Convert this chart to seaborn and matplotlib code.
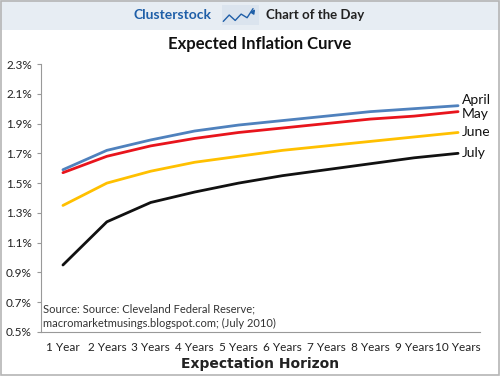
import numpy as np
import pandas as pd
import matplotlib
matplotlib.use("Agg")
import matplotlib.pyplot as plt
import seaborn as sns
from matplotlib.ticker import FuncFormatter, FixedLocator

# --- data ---
horizons = ["1 Year", "2 Years", "3 Years", "4 Years", "5 Years",
            "6 Years", "7 Years", "8 Years", "9 Years", "10 Years"]
april = [1.59, 1.72, 1.79, 1.85, 1.89, 1.92, 1.95, 1.98, 2.00, 2.02]
may = [1.57, 1.68, 1.75, 1.80, 1.84, 1.87, 1.90, 1.93, 1.95, 1.98]
june = [1.35, 1.50, 1.58, 1.64, 1.68, 1.72, 1.75, 1.78, 1.81, 1.84]
july = [0.95, 1.24, 1.37, 1.44, 1.50, 1.55, 1.59, 1.63, 1.67, 1.70]
months = ["April", "May", "June", "July"]
y_ticks = [0.5, 0.7, 0.9, 1.1, 1.3, 1.5, 1.7, 1.9, 2.1, 2.3]
colors = {"April": "#4f81bd", "May": "#e8141c", "June": "#ffc000", "July": "#111111"}

df = pd.DataFrame({
    "horizon": horizons * 4,
    "pos": list(range(len(horizons))) * 4,
    "rate": april + may + june + july,
    "month": np.repeat(months, len(horizons)),
})

sns.set_style("white")
plt.rcParams["font.family"] = ["Lato", "DejaVu Sans"]

fig = plt.figure(figsize=(5.0, 3.76), dpi=100)
fig.patch.set_facecolor("white")

# header band
band = fig.add_axes([0, 1 - 30 / 376, 1, 30 / 376])
band.set_facecolor("#e7edf3")
band.set_xticks([])
band.set_yticks([])
for s in band.spines.values():
    s.set_visible(False)
fig.text(0.345, 1 - 15 / 376, "Clusterstock", color="#1f5fa8", fontsize=10,
         fontweight="bold", ha="center", va="center")
fig.text(0.63, 1 - 15 / 376, "Chart of the Day", color="#222222", fontsize=9.5,
         fontweight="bold", ha="center", va="center")
icon = fig.add_axes([0.443, 1 - 25 / 376, 0.075, 20 / 376])
icon.set_facecolor("#dbe4ee")
icon.plot([0, 1, 2, 3, 4, 5], [0.2, 0.55, 0.25, 0.6, 0.4, 0.9], color="#1f5fa8", lw=1)
icon.annotate("", xy=(5.6, 1.0), xytext=(4.8, 0.6),
              arrowprops=dict(arrowstyle="-|>", color="#1f5fa8", lw=1, mutation_scale=6))
icon.set_xlim(-0.3, 6)
icon.set_ylim(0, 1.1)
icon.set_xticks([])
icon.set_yticks([])
for s in icon.spines.values():
    s.set_visible(False)

# outer border
border = plt.Rectangle((0.002, 0.002), 0.996, 0.996, transform=fig.transFigure,
                       fill=False, edgecolor="#b5b5b5", lw=1.2)
fig.patches.append(border)

fig.text(0.52, 1 - 44 / 376, "Expected Inflation Curve", fontsize=12,
         fontweight="bold", ha="center", va="center", color="#111111")

ax = fig.add_axes([41 / 500, 44 / 376, 439 / 500, 268 / 376])
sns.lineplot(data=df, x="pos", y="rate", hue="month", palette=colors,
             hue_order=months, linewidth=2.0, legend=False, ax=ax)

ax.set_xlim(-0.5, len(horizons) - 0.5)
ax.set_ylim(y_ticks[0], y_ticks[-1])
ax.yaxis.set_major_locator(FixedLocator(y_ticks))
ax.yaxis.set_major_formatter(FuncFormatter(lambda v, _: f"{v:.1f}%"))
ax.set_xticks(range(len(horizons)))
ax.set_xticklabels(horizons)
ax.xaxis.set_minor_locator(FixedLocator(np.arange(-0.5, len(horizons), 1.0)))
ax.tick_params(axis="x", which="major", length=0, labelsize=8.5, pad=7,
               colors="#222222")
ax.tick_params(axis="x", which="minor", length=3, color="#999999", direction="out")
ax.tick_params(axis="y", which="major", length=3, color="#999999", labelsize=8.5,
               left=True)
for lab in ax.get_yticklabels():
    lab.set_color("#222222")
for side in ["top", "right"]:
    ax.spines[side].set_visible(False)
for side in ["left", "bottom"]:
    ax.spines[side].set_color("#999999")
    ax.spines[side].set_linewidth(0.8)
ax.set_xlabel("Expectation Horizon", fontsize=10, fontweight="bold",
              fontfamily="DejaVu Sans", labelpad=3, color="#222222")
ax.set_ylabel("")

# end labels
series = {"April": april, "May": may, "June": june, "July": july}
offsets = {"April": 0.035, "May": -0.015, "June": 0.0, "July": 0.0}
for m in months:
    ax.text(len(horizons) - 1 + 0.08, series[m][-1] + offsets[m], m,
            fontsize=10, va="center", ha="left", color="#111111", clip_on=False)

ax.text(0.005, 0.06, "Source: Source: Cleveland Federal Reserve;\n"
        "macromarketmusings.blogspot.com; (July 2010)",
        transform=ax.transAxes, fontsize=8, color="#333333",
        ha="left", va="center", linespacing=1.4)

fig.savefig("out.png", dpi=100)
